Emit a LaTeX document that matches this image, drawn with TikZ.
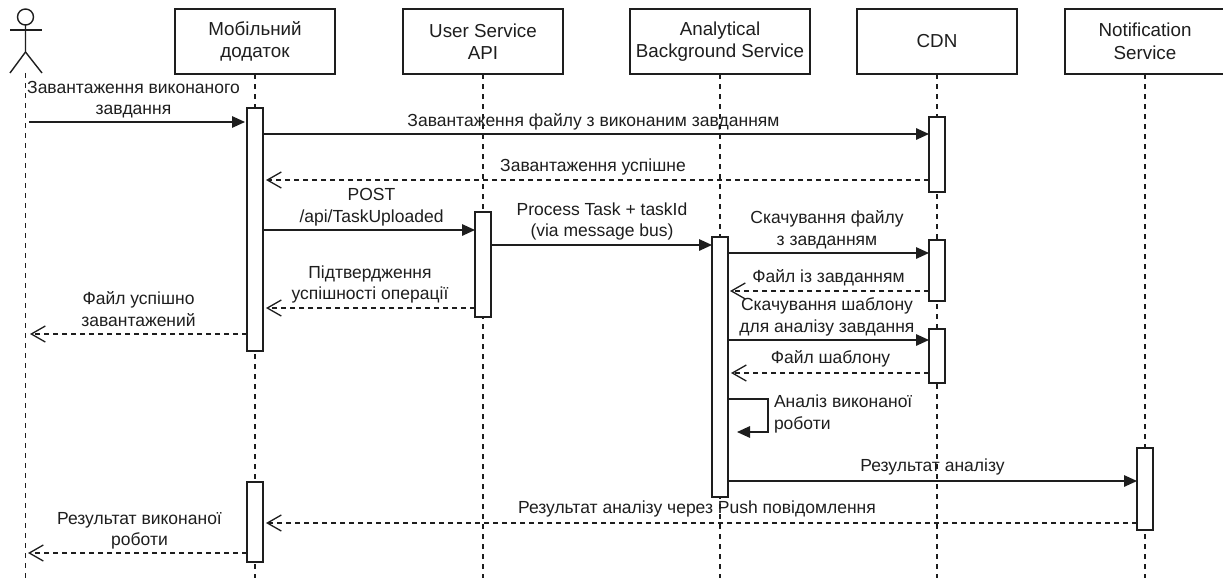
\documentclass[tikz,border=0pt]{standalone}
\usepackage{fontspec}
\setmainfont{Liberation Sans}
\usetikzlibrary{arrows.meta}
\definecolor{ink}{HTML}{1E1E1E}
\tikzset{
  x=1pt,y=-1pt,
  every node/.style={inner sep=0pt,outer sep=0pt,text=ink},
  lbl/.style={font=\fontsize{17.5}{21.5}\selectfont,align=center},
  lblleft/.style={font=\fontsize{17.5}{21.5}\selectfont,align=left,anchor=west},
  head/.style={draw=ink,line width=1.4pt,fill=white,minimum height=65pt,align=center,font=\fontsize{18.8}{22.5}\selectfont},
  act/.style={draw=ink,line width=1.4pt,fill=white,anchor=north west,minimum width=16pt},
  life/.style={draw=ink,line width=1.2pt,dash pattern=on 5pt off 5pt},
  msg/.style={draw=ink,line width=1.5pt,-{Triangle[length=13pt,width=11.5pt]}},
  ret/.style={draw=ink,line width=1.2pt,dash pattern=on 5pt off 4pt,-{Straight Barb[length=14pt,width=16pt,line width=1.3pt]}},
}
\begin{document}
\begin{tikzpicture}
\useasboundingbox[fill=white] (0,0) rectangle (1223,578);
% headers
\node[head,minimum width=160pt] (mob) at (255,41.5) {Мобільний\\додаток};
\node[head,minimum width=160pt] (usr) at (483,41.5) {User Service\\API};
\node[head,minimum width=180pt] (ana) at (720,41.5) {Analytical\\Background Service};
\node[head,minimum width=160pt] (cdn) at (937,41.5) {CDN};
\node[head,minimum width=160pt] (not) at (1145,41.5) {Notification\\Service};
% actor
\node[draw=ink,line width=1.4pt,circle,minimum size=16pt] (hd) at (25.5,17) {};
\coordinate (neck) at (25.5,52);
\coordinate (foot) at (25.5,73);
\draw[draw=ink,line width=1.4pt] (hd.south) -- (neck) -- (10,73);
\draw[draw=ink,line width=1.4pt] (neck) -- (42,73);
\draw[draw=ink,line width=1.4pt] (10,30) -- (42,30);
% lifelines
\coordinate (e0) at (25.5,578);
\coordinate (e1) at (255,578);
\coordinate (e2) at (483,578);
\coordinate (e3) at (720,578);
\coordinate (e4) at (937,578);
\coordinate (e5) at (1145,578);
\draw[life] (foot) -- (e0);
\draw[life] (mob.south) -- (e1);
\draw[life] (usr.south) -- (e2);
\draw[life] (ana.south) -- (e3);
\draw[life] (cdn.south) -- (e4);
\draw[life] (not.south) -- (e5);
% activations
\node[act,minimum height=243pt] (m1) at (247,108) {};
\node[act,minimum height=80pt] (m2) at (247,482) {};
\node[act,minimum height=105pt] (u1) at (475,212) {};
\node[act,minimum height=260pt] (a1) at (712,237) {};
\node[act,minimum height=75pt] (c1) at (929,117) {};
\node[act,minimum height=61pt] (c2) at (929,240) {};
\node[act,minimum height=54pt] (c3) at (929,329) {};
\node[act,minimum height=82pt] (n1) at (1137,448) {};
% free ends
\coordinate (ua) at (29,122);
\coordinate (ub) at (30,334);
\coordinate (uc) at (28,553);
% messages
\draw[msg] (ua) -- ([xshift=-2pt]m1.west |- ua);
\draw[msg] (m1.east |- 0,134) -- (c1.west |- 0,134);
\draw[ret] (c1.west |- 0,180) -- ([xshift=3pt]m1.east |- 0,180);
\draw[msg] (m1.east |- 0,230) -- (u1.west |- 0,230);
\draw[ret] (u1.west |- 0,308) -- ([xshift=3pt]m1.east |- 0,308);
\draw[ret] (m1.west |- ub) -- (ub);
\draw[msg] (u1.east |- 0,245) -- (a1.west |- 0,245);
\draw[msg] (a1.east |- 0,253) -- (c2.west |- 0,253);
\draw[ret] (c2.west |- 0,291) -- ([xshift=2pt]a1.east |- 0,291);
\draw[msg] (a1.east |- 0,340) -- (c3.west |- 0,340);
\draw[ret] (c3.west |- 0,373) -- ([xshift=3pt]a1.east |- 0,373);
\draw[msg] (a1.east |- 0,399) -- (768,399) -- (768,432) -- ([xshift=9pt]a1.east |- 0,432);
\draw[msg] (a1.east |- 0,481) -- (n1.west |- 0,481);
\draw[ret] (n1.west |- 0,523) -- ([xshift=3pt]m2.east |- 0,523);
\draw[ret] (m2.west |- uc) -- (uc);
% labels
\node[lbl] (t1) at (133.5,99.5) {Завантаження виконаного\\завдання};
\node[lbl] (t2) at (593.5,121.5) {Завантаження файлу з виконаним завданням};
\node[lbl] (t3) at (593,166.5) {Завантаження успішне};
\node[lbl] (t4) at (371.5,207) {POST\\/api/TaskUploaded};
\node[lbl] (t5) at (602,221.5) {Process Task + taskId\\(via message bus)};
\node[lbl] (t6) at (827,229.5) {Скачування файлу\\з завданням};
\node[lbl] (t7) at (828.5,277.5) {Файл із завданням};
\node[lbl] (t8) at (827,317) {Скачування шаблону\\для аналізу завдання};
\node[lbl] (t9) at (830.5,358.5) {Файл шаблону};
\node[lblleft] (t10) at (774,414) {Аналіз виконаної\\роботи};
\node[lbl] (t11) at (932.5,467) {Результат аналізу};
\node[lbl] (t12) at (697,509) {Результат аналізу через Push повідомлення};
\node[lbl] (t13) at (370,284.5) {Підтвердження\\успішності операції};
\node[lbl] (t14) at (138.5,309) {Файл успішно\\завантажений};
\node[lbl] (t15) at (139.5,531) {Результат виконаної\\роботи};
\end{tikzpicture}
\end{document}
